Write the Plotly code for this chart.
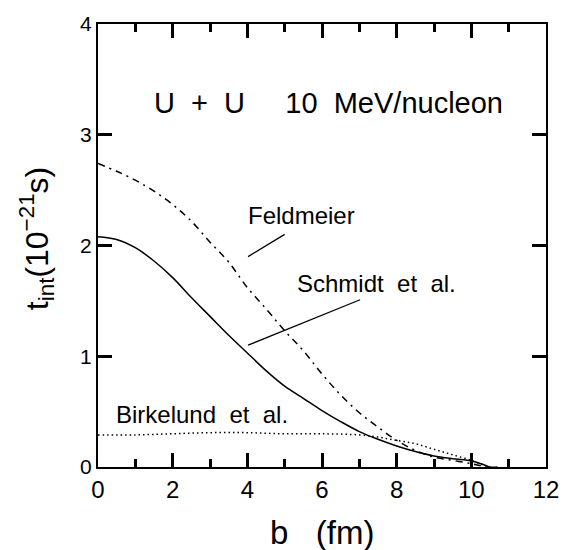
import plotly.graph_objects as go

# Schmidt et al. (solid)
b_schmidt = [0, 0.5, 1, 1.5, 2, 2.5, 3, 3.5, 4, 4.5, 5, 5.5, 6, 6.5, 7, 7.5, 8, 8.5, 9, 9.5, 10, 10.3, 10.5, 10.7]
t_schmidt = [2.08, 2.055, 1.98, 1.86, 1.71, 1.53, 1.36, 1.19, 1.03, 0.87, 0.73, 0.62, 0.51, 0.41, 0.32, 0.25, 0.19, 0.14, 0.10, 0.075, 0.055, 0.025, 0.0, 0.0]

# Feldmeier (dash-dot)
b_feld = [0, 0.5, 1, 1.5, 2, 2.5, 3, 3.5, 4, 4.5, 5, 5.5, 6, 6.5, 7, 7.5, 8, 8.5, 9, 9.5, 10, 10.4]
t_feld = [2.74, 2.67, 2.59, 2.49, 2.37, 2.22, 2.03, 1.85, 1.62, 1.43, 1.23, 1.05, 0.84, 0.65, 0.49, 0.36, 0.24, 0.15, 0.09, 0.06, 0.03, 0.0]

# Birkelund et al. (dotted)
b_birk = [0, 1, 2, 3, 4, 5, 6, 7, 7.5, 8, 8.5, 9, 9.5, 10, 10.3, 10.5]
t_birk = [0.29, 0.29, 0.30, 0.31, 0.31, 0.30, 0.30, 0.29, 0.27, 0.24, 0.21, 0.16, 0.11, 0.06, 0.02, 0.0]

# leader lines for labels
feld_ptr_b = [4.02, 5.0]
feld_ptr_t = [1.90, 2.10]
schm_ptr_b = [4.02, 7.02]
schm_ptr_t = [1.10, 1.51]

x_ticks = [0, 2, 4, 6, 8, 10, 12]
y_ticks = [0, 1, 2, 3, 4]

FONT = "Liberation Sans, Arial, sans-serif"
NB = "\u00a0"

fig = go.Figure()
lw = 1.5
fig.add_trace(go.Scatter(x=b_schmidt, y=t_schmidt, mode="lines",
                         line=dict(color="black", width=lw, shape="spline", smoothing=1.0), showlegend=False))
fig.add_trace(go.Scatter(x=b_feld, y=t_feld, mode="lines",
                         line=dict(color="black", width=lw, dash="7px,5px,2px,5px", shape="spline", smoothing=1.0), showlegend=False))
fig.add_trace(go.Scatter(x=b_birk, y=t_birk, mode="lines",
                         line=dict(color="black", width=lw, dash="1.5px,3px", shape="spline", smoothing=1.0), showlegend=False))
fig.add_trace(go.Scatter(x=feld_ptr_b, y=feld_ptr_t, mode="lines",
                         line=dict(color="black", width=1.3), showlegend=False))
fig.add_trace(go.Scatter(x=schm_ptr_b, y=schm_ptr_t, mode="lines",
                         line=dict(color="black", width=1.3), showlegend=False))

fig.update_layout(
    width=571, height=550,
    margin=dict(l=98, r=13, t=21, b=83),
    paper_bgcolor="white", plot_bgcolor="white",
    font=dict(family=FONT, color="black"),
    xaxis=dict(range=[0, 12], tickmode="array", tickvals=x_ticks, ticks="inside", ticklen=14,
               tickwidth=2.5, tickcolor="black",
               showline=True, linewidth=2, linecolor="black", mirror="allticks",
               showgrid=False, zeroline=False, tickfont=dict(size=24, family=FONT),
               minor=dict(dtick=1, tick0=0, ticks="inside", ticklen=8, tickwidth=2.5,
                          tickcolor="black", showgrid=False)),
    yaxis=dict(range=[0, 4], tickmode="array", tickvals=y_ticks, ticks="inside", ticklen=14,
               tickwidth=2.5, tickcolor="black",
               showline=True, linewidth=2, linecolor="black", mirror="allticks",
               showgrid=False, zeroline=False, tickfont=dict(size=21, family=FONT)),
)

anns = [
    dict(x=1.435, y=3.29, xref="x", yref="y", xanchor="left", yanchor="middle",
         text="U" + NB*2 + "+" + NB*2 + "U" + NB*5 + "10" + NB*2 + "MeV/nucleon", font=dict(size=29)),
    dict(x=5.45, y=2.27, xref="x", yref="y", xanchor="center", yanchor="middle",
         text="Feldmeier", font=dict(size=24)),
    dict(x=7.46, y=1.66, xref="x", yref="y", xanchor="center", yanchor="middle",
         text="Schmidt" + NB*2 + "et" + NB*2 + "al.", font=dict(size=24)),
    dict(x=2.79, y=0.47, xref="x", yref="y", xanchor="center", yanchor="middle",
         text="Birkelund" + NB*2 + "et" + NB*2 + "al.", font=dict(size=24)),
    dict(x=(329 - 98) / 460, y=(467 - 533) / 446, xref="paper", yref="paper",
         xanchor="center", yanchor="middle", text="b" + NB*3 + "(fm)", font=dict(size=33)),
    dict(x=(35 - 98) / 460, y=(467 - 237) / 446, xref="paper", yref="paper",
         xanchor="center", yanchor="middle", textangle=-90,
         text="t<sub>int</sub>(10<sup>−21</sup>s)", font=dict(size=32)),
]
for a in anns:
    a["showarrow"] = False
    a["font"]["family"] = FONT
    a["font"]["color"] = "black"
fig.update_layout(annotations=anns)

fig.write_html("out.html")
